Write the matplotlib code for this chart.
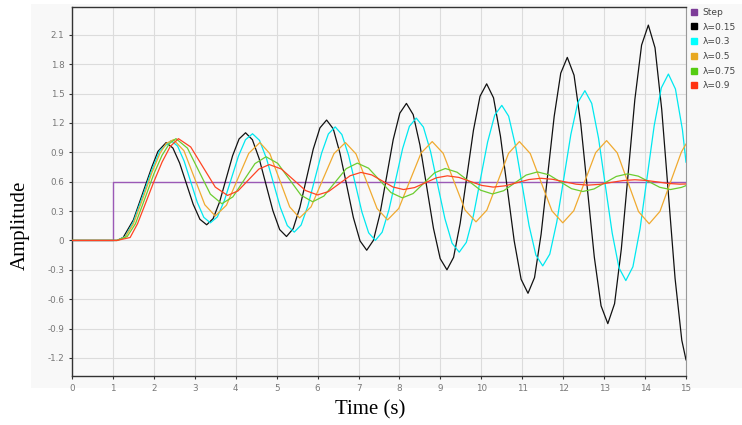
import matplotlib
matplotlib.use("Agg")
from matplotlib import pyplot as plt
from matplotlib.patches import Rectangle
from matplotlib.lines import Line2D

# step input
step_t = [0, 1, 1, 15]
step_y = [0, 0, 0.6, 0.6]

# lambda = 0.15
t_015 = [0, 1.0, 1.1, 1.25, 1.5, 1.75, 1.95, 2.1, 2.3,
         2.465, 2.63, 2.795, 2.96, 3.125, 3.29,
         3.448, 3.607, 3.765, 3.923, 4.082, 4.24,
         4.407, 4.573, 4.74, 4.907, 5.073, 5.24,
         5.403, 5.567, 5.73, 5.893, 6.057, 6.22,
         6.383, 6.547, 6.71, 6.873, 7.037, 7.2,
         7.362, 7.523, 7.685, 7.847, 8.008, 8.17,
         8.335, 8.5, 8.665, 8.83, 8.995, 9.16,
         9.322, 9.483, 9.645, 9.807, 9.968, 10.13,
         10.298, 10.467, 10.635, 10.803, 10.972, 11.14,
         11.3, 11.46, 11.62, 11.78, 11.94, 12.1,
         12.265, 12.43, 12.595, 12.76, 12.925, 13.09,
         13.255, 13.42, 13.585, 13.75, 13.915, 14.08,
         14.243, 14.407, 14.57, 14.733, 14.897, 15.0]
y_015 = [0, 0, 0, 0.03, 0.21, 0.51, 0.75, 0.91, 1.0,
         0.944, 0.79, 0.58, 0.37, 0.216, 0.16,
         0.223, 0.395, 0.63, 0.865, 1.037, 1.10,
         1.029, 0.835, 0.57, 0.305, 0.111, 0.04,
         0.12, 0.338, 0.635, 0.932, 1.15, 1.23,
         1.14, 0.89, 0.565, 0.235, -0.005, -0.10,
         0.0, 0.27, 0.65, 1.03, 1.30, 1.40,
         1.286, 0.975, 0.55, 0.125, -0.186, -0.30,
         -0.173, 0.175, 0.65, 1.125, 1.473, 1.60,
         1.457, 1.065, 0.53, -0.005, -0.397, -0.54,
         -0.379, 0.063, 0.665, 1.268, 1.709, 1.87,
         1.688, 1.19, 0.51, -0.17, -0.668, -0.85,
         -0.646, -0.088, 0.675, 1.438, 1.996, 2.20,
         1.969, 1.338, 0.475, -0.388, -1.019, -1.22]

# lambda = 0.3
t_03 = [0, 1.0, 1.1, 1.3, 1.5, 1.75, 1.95, 2.15, 2.42,
        2.58, 2.74, 2.9, 3.06, 3.22, 3.38,
        3.552, 3.723, 3.895, 4.067, 4.238, 4.41,
        4.58, 4.75, 4.92, 5.09, 5.26, 5.43,
        5.597, 5.763, 5.93, 6.097, 6.263, 6.43,
        6.593, 6.757, 6.92, 7.083, 7.247, 7.41,
        7.577, 7.743, 7.91, 8.077, 8.243, 8.41,
        8.585, 8.76, 8.935, 9.11, 9.285, 9.46,
        9.633, 9.807, 9.98, 10.153, 10.327, 10.5,
        10.667, 10.833, 11.0, 11.167, 11.333, 11.5,
        11.672, 11.843, 12.015, 12.187, 12.358, 12.53,
        12.697, 12.863, 13.03, 13.197, 13.363, 13.53,
        13.703, 13.877, 14.05, 14.223, 14.397, 14.57,
        14.742, 14.913, 15.0]
y_03 = [0, 0, 0, 0.04, 0.19, 0.48, 0.72, 0.92, 1.02,
        0.964, 0.81, 0.60, 0.39, 0.236, 0.18,
        0.241, 0.408, 0.635, 0.862, 1.029, 1.09,
        1.023, 0.839, 0.588, 0.336, 0.152, 0.085,
        0.157, 0.354, 0.623, 0.891, 1.088, 1.16,
        1.082, 0.87, 0.58, 0.29, 0.078, 0.0,
        0.084, 0.313, 0.625, 0.938, 1.166, 1.25,
        1.158, 0.908, 0.565, 0.223, -0.028, -0.12,
        -0.02, 0.255, 0.63, 1.005, 1.28, 1.38,
        1.27, 0.97, 0.56, 0.15, -0.15, -0.26,
        -0.14, 0.188, 0.635, 1.083, 1.41, 1.53,
        1.40, 1.045, 0.56, 0.075, -0.28, -0.41,
        -0.269, 0.118, 0.645, 1.173, 1.559, 1.70,
        1.547, 1.13, 0.80]

# lambda = 0.5
t_05 = [0, 1.0, 1.1, 1.3, 1.5, 1.75, 1.95, 2.15, 2.3, 2.48,
        2.735, 2.99, 3.245, 3.5,
        3.773, 4.045, 4.318, 4.59,
        4.833, 5.075, 5.318, 5.56,
        5.84, 6.12, 6.4, 6.68,
        6.938, 7.195, 7.453, 7.71,
        7.983, 8.255, 8.528, 8.8,
        9.068, 9.335, 9.603, 9.87,
        10.135, 10.4, 10.665, 10.93,
        11.195, 11.46, 11.725, 11.99,
        12.258, 12.525, 12.793, 13.06,
        13.32, 13.58, 13.84, 14.1,
        14.363, 14.625, 14.888, 15.0]
y_05 = [0, 0, 0, 0.035, 0.17, 0.45, 0.69, 0.89, 0.99, 1.03,
        0.916, 0.64, 0.364, 0.25,
        0.36, 0.625, 0.89, 1.0,
        0.887, 0.615, 0.343, 0.23,
        0.343, 0.615, 0.887, 1.0,
        0.884, 0.605, 0.326, 0.21,
        0.327, 0.61, 0.893, 1.01,
        0.89, 0.60, 0.31, 0.19,
        0.31, 0.60, 0.89, 1.01,
        0.888, 0.595, 0.302, 0.18,
        0.303, 0.60, 0.897, 1.02,
        0.895, 0.595, 0.295, 0.17,
        0.296, 0.60, 0.904, 0.985]

# lambda = 0.75
t_075 = [0, 1.0, 1.1, 1.35, 1.55, 1.8, 2.0, 2.2, 2.38, 2.54,
         2.82, 3.1, 3.38, 3.66,
         3.93, 4.2, 4.47, 4.74,
         5.025, 5.31, 5.595, 5.88,
         6.153, 6.425, 6.698, 6.97,
         7.245, 7.52, 7.795, 8.07,
         8.333, 8.595, 8.858, 9.12,
         9.408, 9.695, 9.983, 10.27,
         10.545, 10.82, 11.095, 11.37,
         11.648, 11.925, 12.203, 12.48,
         12.753, 13.025, 13.298, 13.57,
         13.833, 14.095, 14.358, 14.62,
         14.89, 15.0]
y_075 = [0, 0, 0, 0.04, 0.17, 0.45, 0.68, 0.87, 0.99, 1.04,
         0.943, 0.708, 0.473, 0.375,
         0.445, 0.615, 0.785, 0.855,
         0.788, 0.625, 0.462, 0.395,
         0.453, 0.593, 0.733, 0.79,
         0.738, 0.613, 0.488, 0.435,
         0.479, 0.585, 0.691, 0.735,
         0.697, 0.605, 0.513, 0.475,
         0.508, 0.588, 0.668, 0.70,
         0.671, 0.60, 0.529, 0.50,
         0.526, 0.59, 0.654, 0.68,
         0.657, 0.60, 0.543, 0.52,
         0.542, 0.56]

# lambda = 0.9
t_09 = [0, 1.0, 1.1, 1.42, 1.6, 1.75, 2.0, 2.2, 2.4, 2.6,
        2.9, 3.2, 3.5, 3.8,
        4.055, 4.31, 4.565, 4.82,
        5.115, 5.41, 5.705, 6.0,
        6.265, 6.53, 6.795, 7.06,
        7.32, 7.58, 7.84, 8.1,
        8.368, 8.635, 8.903, 9.17,
        9.45, 9.73, 10.01, 10.29,
        10.58, 10.87, 11.16, 11.45,
        11.738, 12.025, 12.313, 12.6,
        12.888, 13.175, 13.463, 13.75,
        14.025, 14.3, 14.575, 14.85, 15.0]
y_09 = [0, 0, 0, 0.03, 0.17, 0.33, 0.60, 0.80, 0.96, 1.04,
        0.955, 0.75, 0.545, 0.46,
        0.506, 0.618, 0.729, 0.775,
        0.73, 0.62, 0.51, 0.465,
        0.499, 0.58, 0.661, 0.695,
        0.67, 0.608, 0.546, 0.52,
        0.54, 0.59, 0.64, 0.66,
        0.644, 0.603, 0.562, 0.545,
        0.558, 0.59, 0.622, 0.635,
        0.625, 0.60, 0.575, 0.565,
        0.573, 0.593, 0.612, 0.62,
        0.613, 0.598, 0.582, 0.575, 0.577]

series = [("λ=0.15", t_015, y_015, "#111111"),
          ("λ=0.3", t_03, y_03, "#00e8f0"),
          ("λ=0.5", t_05, y_05, "#f0aa30"),
          ("λ=0.75", t_075, y_075, "#6ccc30"),
          ("λ=0.9", t_09, y_09, "#ff4422")]
step_color = "#9b59b6"

x_ticks = list(range(0, 16))
y_ticks = [-1.2, -0.9, -0.6, -0.3, 0, 0.3, 0.6, 0.9, 1.2, 1.5, 1.8, 2.1]
y_labels = ["-1.2", "-0.9", "-0.6", "-0.3", "0", "0.3", "0.6", "0.9", "1.2", "1.5", "1.8", "2.1"]

W, H = 742, 425
fig = plt.figure(figsize=(W / 100, H / 100), dpi=100)
fig.patches.append(Rectangle((31 / W, 1 - 388 / H), (W - 31) / W, 384 / H,
                             transform=fig.transFigure, facecolor="#f8f8f8",
                             edgecolor="none", zorder=-10))
ax = fig.add_axes([72 / W, 1 - 376 / H, 614 / W, 369 / H])
ax.set_facecolor("#f9f9f9")

ax.plot(step_t, step_y, color=step_color, lw=1.0, zorder=2)
for name, t, y, c in series:
    ax.plot(t, y, color=c, lw=0.9, zorder=3)

ax.set_xlim(0, 15)
ax.set_ylim(-1.385, 2.385)
ax.set_xticks(x_ticks)
ax.set_xticklabels([str(v) for v in x_ticks])
ax.set_yticks(y_ticks)
ax.set_yticklabels(y_labels)
ax.grid(True, color="#dcdcdc", lw=0.8)
ax.set_axisbelow(True)
ax.tick_params(axis="both", labelsize=6.3, labelcolor="#777777", colors="#333333",
               length=2.5, width=0.8, pad=3)
for s in ["left", "bottom", "top"]:
    ax.spines[s].set_color("#333333")
    ax.spines[s].set_linewidth(1.0)
ax.spines["right"].set_color("#999999")

fig.text(20 / W, 1 - 225 / H, "Amplitude", rotation=90, ha="center", va="center",
         family="Liberation Serif", fontsize=15)
fig.text(370 / W, 1 - 410 / H, "Time (s)", ha="center", va="center",
         family="Liberation Serif", fontsize=15)

handles = [Line2D([], [], marker="s", ls="none", markersize=5, color="#7d3c98")]
labels = ["Step"]
legend_cols = ["#000000", "#00ffff", "#e8a820", "#55cc11", "#ff3311"]
for (name, t, y, c), lc in zip(series, legend_cols):
    handles.append(Line2D([], [], marker="s", ls="none", markersize=5, color=lc))
    labels.append(name)
fig.legend(handles, labels, loc="upper left", bbox_to_anchor=(690 / W, 1 - 8 / H),
           frameon=False, fontsize=6.6, handlelength=0.8, handletextpad=0.6,
           labelspacing=0.62, borderpad=0, borderaxespad=0, labelcolor="#444444")

fig.savefig("out.png", dpi=100)
